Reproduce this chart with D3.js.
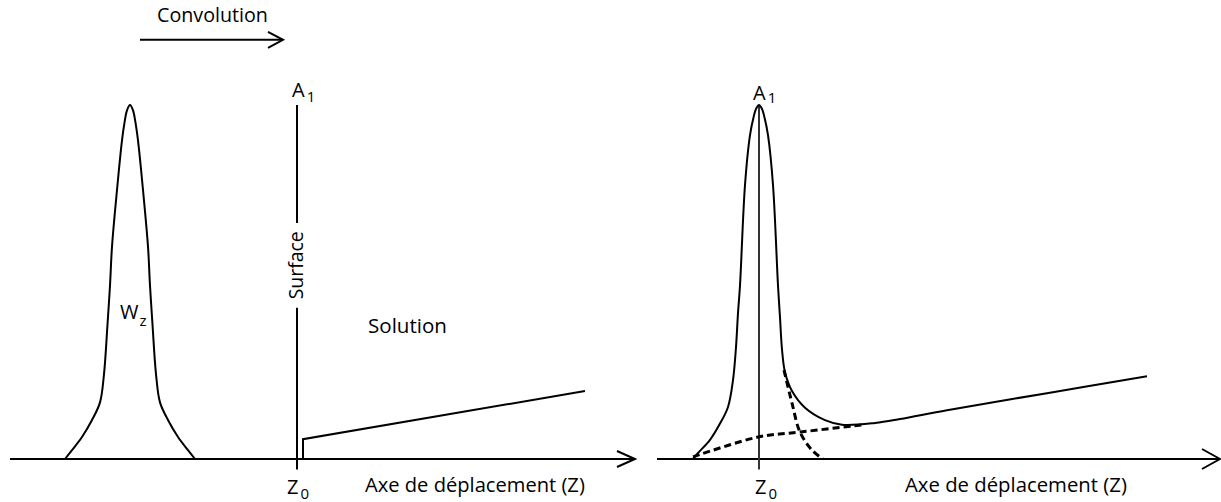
<!DOCTYPE html>
<html>
<head>
<meta charset="utf-8">
<script src="https://cdn.jsdelivr.net/npm/d3@7"></script>
<style>
  html, body { margin: 0; padding: 0; background: #fff; }
  svg { display: block; font-family: "Open Sans", "Noto Sans", sans-serif; }
</style>
</head>
<body>
<svg id="chart" width="1221" height="502"></svg>
<script>
// ---------- DATA (Z in arbitrary units, Z0 = 0; intensity normalised to A1 = 1) ----------
const axisExtentLeft  = [-28.7, 33.8];
const axisExtentRight = [-10.2, 46.1];

// Left panel: instrument function W_z (peak-shaped)
const wzZ = [-23.2, -22.5, -21.5, -20.5, -19.7, -19.3, -18.95, -18.7, -18.5, -18.0, -17.5, -17.25, -17.0, -16.7,
             -16.4, -16.15, -15.9, -15.4, -14.9, -14.7, -14.45, -14.1, -13.7, -12.9, -11.9, -10.9, -10.2];
const wzI = [0, 0.025, 0.062, 0.11, 0.16, 0.24, 0.38, 0.49, 0.6, 0.76, 0.9, 0.95, 0.985, 1.0,
             0.985, 0.95, 0.9, 0.76, 0.6, 0.49, 0.38, 0.24, 0.16, 0.11, 0.062, 0.025, 0];

// Left panel: surface line and solution profile
const surfaceI = [1.0, -0.03];
const surfaceGapI = [0.427, 0.667];
const solutionZ = [0.6, 0.6, 28.8];
const solutionI = [0, 0.056, 0.192];

// Convolution arrow
const convArrowZ = [-15.7, -1.4];
const convArrowI = 1.184;

// Right panel: measured (convoluted) profile
const measZ = [-6.6, -6.1, -4.9, -3.9, -3.1, -2.6, -2.3, -2.1, -1.9, -1.4, -0.9, -0.55, -0.28, 0,
               0.28, 0.55, 0.9, 1.4, 1.9, 2.1, 2.3, 2.6, 3.3, 4.6, 6.6, 8.3, 11.6, 14.1, 18.8, 28.8, 38.8];
const measI = [0, 0.017, 0.054, 0.10, 0.147, 0.223, 0.316, 0.412, 0.49, 0.774, 0.915, 0.965, 0.99, 1.0,
               0.99, 0.965, 0.915, 0.774, 0.49, 0.40, 0.31, 0.245, 0.192, 0.145, 0.110, 0.097, 0.102, 0.113, 0.138, 0.186, 0.234];

// Right panel: dashed components
const surfCompZ = [2.5, 3.3, 4.1, 5.3, 6.4];
const surfCompI = [0.251, 0.158, 0.076, 0.025, 0];
const bulkCompZ = [-6.6, -0.1, 4.1, 10.3];
const bulkCompI = [0.006, 0.062, 0.076, 0.096];

// ---------- LAYOUT ----------
const svg = d3.select("#chart");
const xL = d3.scaleLinear().domain([0, 10]).range([297, 397]);
const xR = d3.scaleLinear().domain([0, 10]).range([759, 859]);
const y  = d3.scaleLinear().domain([0, 1]).range([459, 105]);

const FONT = 20;
const ink = "#000";

function line(x) {
  return d3.line().x(d => x(d[0])).y(d => y(d[1])).curve(d3.curveCatmullRom.alpha(0.5));
}
function zip(a, b) { return a.map((v, i) => [v, b[i]]); }

function arrowHead(g, tx, ty, len, half) {
  g.append("path")
    .attr("d", `M${tx - len},${ty - half} L${tx},${ty} L${tx - len},${ty + half}`)
    .attr("fill", "none").attr("stroke", ink).attr("stroke-width", 2);
}
function fitText(sel, target) {
  const len = sel.node().getComputedTextLength();
  sel.attr("font-size", FONT * target / len);
}
function subLabel(g, x0, base, main, sub, subDx, subDy, subSize) {
  const t = g.append("text").attr("x", x0).attr("y", base).attr("font-size", FONT).attr("fill", ink).text(main);
  const w = t.node().getComputedTextLength();
  g.append("text").attr("x", x0 + w + subDx).attr("y", base + subDy).attr("font-size", subSize).attr("fill", ink).text(sub);
}

// ===== LEFT PANEL =====
const gl = svg.append("g");
gl.append("line")
  .attr("x1", xL(axisExtentLeft[0])).attr("x2", xL(axisExtentLeft[1]))
  .attr("y1", y(0)).attr("y2", y(0))
  .attr("stroke", ink).attr("stroke-width", 2);
arrowHead(gl, xL(axisExtentLeft[1]), y(0), 18, 8);

gl.append("path").datum(zip(wzZ, wzI))
  .attr("d", line(xL)).attr("fill", "none").attr("stroke", ink).attr("stroke-width", 2);

gl.append("line").attr("x1", xL(0)).attr("x2", xL(0))
  .attr("y1", y(surfaceI[0])).attr("y2", y(surfaceGapI[1]))
  .attr("stroke", ink).attr("stroke-width", 2);
gl.append("line").attr("x1", xL(0)).attr("x2", xL(0))
  .attr("y1", y(surfaceGapI[0])).attr("y2", y(surfaceI[1]))
  .attr("stroke", ink).attr("stroke-width", 2);

gl.append("path").datum(zip(solutionZ, solutionI))
  .attr("d", d3.line().x(d => xL(d[0])).y(d => y(d[1])))
  .attr("fill", "none").attr("stroke", ink).attr("stroke-width", 2);

gl.append("line")
  .attr("x1", xL(convArrowZ[0])).attr("x2", xL(convArrowZ[1]))
  .attr("y1", y(convArrowI)).attr("y2", y(convArrowI))
  .attr("stroke", ink).attr("stroke-width", 2);
arrowHead(gl, xL(convArrowZ[1]), y(convArrowI), 15, 8);

const conv = gl.append("text").attr("x", 157).attr("y", 22).attr("font-size", FONT).attr("fill", ink).text("Convolution");
fitText(conv, 111);
const surf = gl.append("text")
  .attr("transform", `translate(${xL(0) + 6},${(y(surfaceGapI[0]) + y(surfaceGapI[1])) / 2}) rotate(-90)`)
  .attr("text-anchor", "middle").attr("font-size", FONT).attr("fill", ink).text("Surface");
fitText(surf, 68);
const sol = gl.append("text").attr("x", 368).attr("y", 333).attr("font-size", FONT).attr("fill", ink).text("Solution");
fitText(sol, 79);
const axL = gl.append("text").attr("x", 365).attr("y", 492).attr("font-size", FONT).attr("fill", ink).text("Axe de déplacement (Z)");
fitText(axL, 220);
subLabel(gl, xL(0) - 5, 97, "A", "1", 2, 5, 15);
subLabel(gl, xL(0) - 10, 494, "Z", "0", 2, 5, 15);
subLabel(gl, 120, 319, "W", "z", 1, 7, 15);

// ===== RIGHT PANEL =====
const gr = svg.append("g");
gr.append("line")
  .attr("x1", xR(axisExtentRight[0])).attr("x2", xR(axisExtentRight[1]))
  .attr("y1", y(0)).attr("y2", y(0))
  .attr("stroke", ink).attr("stroke-width", 2);
arrowHead(gr, xR(axisExtentRight[1]), y(0), 18, 10);

gr.append("line").attr("x1", xR(0)).attr("x2", xR(0))
  .attr("y1", y(1.0)).attr("y2", y(-0.03))
  .attr("stroke", "#333").attr("stroke-width", 2);

gr.append("path").datum(zip(bulkCompZ, bulkCompI))
  .attr("d", line(xR)).attr("fill", "none").attr("stroke", ink)
  .attr("stroke-width", 3).attr("stroke-dasharray", "7,4");
gr.append("path").datum(zip(surfCompZ, surfCompI))
  .attr("d", line(xR)).attr("fill", "none").attr("stroke", ink)
  .attr("stroke-width", 3).attr("stroke-dasharray", "7,4");

gr.append("path").datum(zip(measZ, measI))
  .attr("d", line(xR)).attr("fill", "none").attr("stroke", ink).attr("stroke-width", 2);

const axR = gr.append("text").attr("x", 905).attr("y", 492).attr("font-size", FONT).attr("fill", ink).text("Axe de déplacement (Z)");
fitText(axR, 222);
subLabel(gr, xR(0) - 6, 100, "A", "1", 2, 3, 15);
subLabel(gr, xR(0) - 4, 494, "Z", "0", 2, 5, 15);
</script>
</body>
</html>
